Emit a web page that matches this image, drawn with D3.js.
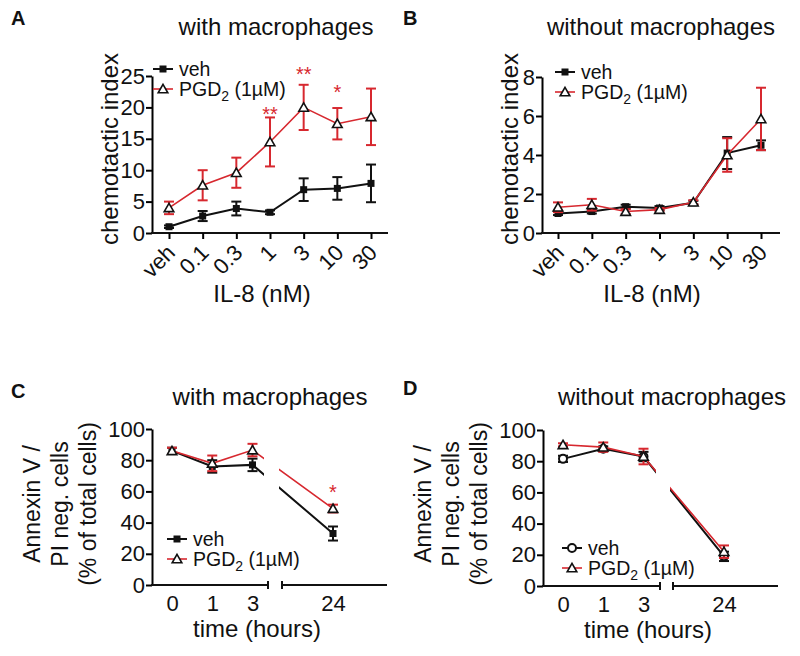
<!DOCTYPE html>
<html><head><meta charset="utf-8">
<script src="https://cdn.jsdelivr.net/npm/d3@7"></script>
<style>body{margin:0;background:#fff}svg{display:block}text{font-family:"Liberation Sans",Arial,sans-serif}</style>
</head><body><svg id="c" width="800" height="656"></svg>
<script>
// ---------- data ----------
const doseCats = ["veh","0.1","0.3","1","3","10","30"];
const yTicksA = [0,5,10,15,20,25];
const yTicksB = [0,2,4,6,8];
const vehA    = [1.0,2.7,3.9,3.3,6.9,7.1,7.9];
const vehAErr = [0.2,0.8,1.1,0.3,1.8,1.8,3.0];
const pgdA    = [4.0,7.6,9.6,14.5,20.0,17.4,18.5];
const pgdAErr = [1.0,2.4,2.4,3.9,3.6,2.5,4.5];
const starCatsA = ["1","3","10"];
const starTextA = ["**","**","*"];
const starLevelA = [19.6,26.0,23.1];
const vehB    = [1.0,1.1,1.35,1.28,1.55,4.1,4.5];
const vehBErr = [0.08,0.1,0.1,0.1,0.1,0.82,0.25];
const pgdB    = [1.32,1.45,1.1,1.2,1.58,4.0,5.85];
const pgdBErr = [0.25,0.3,0.12,0.08,0.1,0.86,1.6];
const timeCats = ["0","1","3","24"];
const timeSlots = ["0","1","3","break","24"];
const yTicksCD = [0,20,40,60,80,100];
const vehC    = [86,76,77,33];
const vehCErr = [2,4,4,4.5];
const pgdC    = [86,78,86.5,49];
const pgdCErr = [2,5,4,2.5];
const starCatsC = ["24"];
const starTextC = ["*"];
const starLevelC = [62];
const vehD    = [81.5,88,83,19];
const vehDErr = [2,1.5,3,3];
const pgdD    = [90.5,89,83,22];
const pgdDErr = [1,3,5,4];
const legendLabels = ["veh","PGD"];

const RED = "#d7282f";
const svg = d3.select("#c");

function panel(cfg){
  const g = svg.append("g");
  const x = d3.scalePoint().domain(cfg.xDomain).range(cfg.xRange);
  const y = d3.scaleLinear().domain([0, cfg.yMax]).range(cfg.yRange);
  const x0 = cfg.axisX;
  const yb = cfg.yRange[0];
  const ya = g.append("g").attr("transform", `translate(${x0},0)`)
    .call(d3.axisLeft(y).tickValues(cfg.yTicks).tickSizeOuter(0).tickSizeInner(6).tickPadding(1));
  ya.select(".domain").attr("stroke-width", 2);
  ya.selectAll(".tick line").attr("stroke-width", 2);
  ya.selectAll("text").attr("font-size", 22).attr("fill", "#111");
  if (cfg.breakAt){
    const [b1,b2] = cfg.breakAt;
    g.append("line").attr("x1", x0-1).attr("x2", b1).attr("y1", yb).attr("y2", yb).attr("stroke","#111").attr("stroke-width",2);
    g.append("line").attr("x1", b2).attr("x2", cfg.axisEnd).attr("y1", yb).attr("y2", yb).attr("stroke","#111").attr("stroke-width",2);
    [b1,b2].forEach(bx => g.append("line").attr("x1", bx).attr("x2", bx).attr("y1", yb-4).attr("y2", yb+4).attr("stroke","#111").attr("stroke-width",2));
  } else {
    g.append("line").attr("x1", x0-1).attr("x2", cfg.axisEnd).attr("y1", yb).attr("y2", yb).attr("stroke","#111").attr("stroke-width",2);
  }
  const xa = g.append("g").attr("transform", `translate(0,${yb})`)
    .call(d3.axisBottom(x).tickValues(cfg.xTicks).tickSizeOuter(0).tickSizeInner(cfg.rotate ? 6 : 0).tickPadding(cfg.rotate ? 4 : 7));
  xa.select(".domain").remove();
  xa.selectAll(".tick line").attr("stroke-width", 2);
  const xt = xa.selectAll("text").attr("font-size", 22).attr("fill", "#111");
  if (cfg.rotate){
    xt.attr("text-anchor","end").attr("dy", null).attr("y", null)
      .attr("transform", "translate(7,21) rotate(-45)");
  } else {
    xt.attr("dy", "0.71em").attr("y", 10);
  }
  let clipId = null;
  if (cfg.breakAt){
    clipId = "clip" + cfg.id;
    const cp = svg.append("clipPath").attr("id", clipId);
    cp.append("rect").attr("x", 0).attr("y", 0).attr("width", cfg.breakAt[0] - 4).attr("height", 656);
    cp.append("rect").attr("x", cfg.breakAt[1] - 3).attr("y", 0).attr("width", 800).attr("height", 656);
  }
  const line = d3.line().x(d => x(d.c)).y(d => y(d.v));
  cfg.series.forEach(s => {
    const data = cfg.cats.map((c,i) => ({c, v:s.values[i], e:s.err[i]}));
    const lp = g.append("path").datum(data).attr("d", line).attr("fill","none")
      .attr("stroke", s.color).attr("stroke-width", s.lw);
    if (clipId) lp.attr("clip-path", `url(#${clipId})`);
    const eb = g.append("g").attr("stroke", s.color).attr("stroke-width", 2);
    data.forEach(d => {
      const cx = x(d.c);
      eb.append("line").attr("x1", cx).attr("x2", cx).attr("y1", y(d.v - d.e)).attr("y2", y(d.v + d.e));
      [d.v - d.e, d.v + d.e].forEach(v => eb.append("line").attr("x1", cx-5).attr("x2", cx+5).attr("y1", y(v)).attr("y2", y(v)));
    });
    data.forEach(d => drawMarker(g, s.marker, x(d.c), y(d.v)));
  });
  if (cfg.stars){
    cfg.stars.cats.forEach((c,i) => {
      g.append("text").attr("x", x(c)).attr("y", y(cfg.stars.levels[i]) + 11)
        .attr("text-anchor","middle").attr("font-size", 20).attr("fill", RED).text(cfg.stars.text[i]);
    });
  }
  cfg.series.forEach((s,i) => {
    const ly = cfg.legend.y[i], lx = cfg.legend.x;
    g.append("line").attr("x1", lx-10).attr("x2", lx+10).attr("y1", ly).attr("y2", ly).attr("stroke", s.color).attr("stroke-width", s.lw);
    drawMarker(g, s.marker, lx, ly);
    const t = g.append("text").attr("x", lx + 16).attr("y", ly + 7).attr("font-size", 19.5).attr("fill","#111");
    if (s.label === "PGD"){
      t.append("tspan").text("PGD");
      t.append("tspan").attr("font-size", 14).attr("dy", 5).text("2");
      t.append("tspan").attr("dy", -5).text(" (1\u00B5M)");
    } else t.text(s.label);
  });
  g.append("text").attr("x", cfg.title.x).attr("y", cfg.title.y).attr("text-anchor","middle")
    .attr("font-size", 24).attr("fill","#111").text(cfg.title.text);
  g.append("text").attr("x", cfg.letter.x).attr("y", cfg.letter.y).attr("font-size", 20)
    .attr("font-weight","bold").attr("fill","#111").text(cfg.letter.text);
  cfg.ylab.lines.forEach((ln,i) => {
    g.append("text").attr("transform", `translate(${cfg.ylab.x[i]},${cfg.ylab.cy}) rotate(-90)`)
      .attr("text-anchor","middle").attr("font-size", cfg.ylab.size).attr("fill","#111").text(ln);
  });
  g.append("text").attr("x", cfg.xlab.x).attr("y", cfg.xlab.y).attr("text-anchor","middle")
    .attr("font-size", 24).attr("fill","#111").text(cfg.xlab.text);
}

function drawMarker(g, type, cx, cy){
  if (type === "square"){
    g.append("rect").attr("x", cx-3.5).attr("y", cy-3.5).attr("width", 7).attr("height", 7).attr("fill","#111");
  } else if (type === "tri"){
    g.append("path").attr("d", d3.symbol(d3.symbolTriangle, 40)()).attr("transform", `translate(${cx},${cy+1})`)
      .attr("fill","#fff").attr("stroke","#111").attr("stroke-width",1.6);
  } else if (type === "circle"){
    g.append("circle").attr("cx", cx).attr("cy", cy).attr("r", 4).attr("fill","#fff").attr("stroke","#111").attr("stroke-width",2);
  }
}

const pgdStyle = {label:"PGD", color:RED, lw:1.6, marker:"tri"};

panel({id:"A", xDomain: doseCats, xRange:[169,371], cats: doseCats, xTicks: doseCats, rotate:true,
  yMax:25, yRange:[233,76], yTicks:yTicksA, axisX:152, axisEnd:388,
  series:[{label:legendLabels[0], color:"#111", lw:2, marker:"square", values:vehA, err:vehAErr},
          Object.assign({values:pgdA, err:pgdAErr}, pgdStyle)],
  stars:{cats:starCatsA, text:starTextA, levels:starLevelA},
  legend:{x:163, y:[69,89]},
  title:{x:276, y:35, text:"with macrophages"}, letter:{x:11, y:25, text:"A"},
  ylab:{lines:["chemotactic index"], x:[118], cy:149, size:24},
  xlab:{x:262, y:302, text:"IL-8 (nM)"}});

panel({id:"B", xDomain: doseCats, xRange:[558,761], cats: doseCats, xTicks: doseCats, rotate:true,
  yMax:8, yRange:[233,77], yTicks:yTicksB, axisX:542, axisEnd:780,
  series:[{label:legendLabels[0], color:"#111", lw:2, marker:"square", values:vehB, err:vehBErr},
          Object.assign({values:pgdB, err:pgdBErr}, pgdStyle)],
  legend:{x:565, y:[72,92]},
  title:{x:661, y:35, text:"without macrophages"}, letter:{x:403, y:25, text:"B"},
  ylab:{lines:["chemotactic index"], x:[518], cy:149, size:24},
  xlab:{x:652, y:302, text:"IL-8 (nM)"}});

panel({id:"C", xDomain: timeSlots, xRange:[172,333], cats: timeCats, xTicks: timeCats, rotate:false,
  yMax:100, yRange:[585,429], yTicks:yTicksCD, axisX:152, axisEnd:387, breakAt:[268,282],
  series:[{label:legendLabels[0], color:"#111", lw:2, marker:"square", values:vehC, err:vehCErr},
          Object.assign({values:pgdC, err:pgdCErr}, pgdStyle)],
  stars:{cats:starCatsC, text:starTextC, levels:starLevelC},
  legend:{x:177, y:[539,559]},
  title:{x:270, y:405, text:"with macrophages"}, letter:{x:11, y:398, text:"C"},
  ylab:{lines:["Annexin V /","PI neg. cells","(% of total cells)"], x:[40,68,96], cy:504, size:23},
  xlab:{x:257, y:637, text:"time (hours)"}});

panel({id:"D", xDomain: timeSlots, xRange:[563,724], cats: timeCats, xTicks: timeCats, rotate:false,
  yMax:100, yRange:[586,430], yTicks:yTicksCD, axisX:543, axisEnd:778, breakAt:[660,673],
  series:[{label:legendLabels[0], color:"#111", lw:2, marker:"circle", values:vehD, err:vehDErr},
          Object.assign({values:pgdD, err:pgdDErr}, pgdStyle)],
  legend:{x:572, y:[548,568]},
  title:{x:672, y:405, text:"without macrophages"}, letter:{x:403, y:395, text:"D"},
  ylab:{lines:["Annexin V /","PI neg. cells","(% of total cells)"], x:[431,459,487], cy:504, size:23},
  xlab:{x:648, y:638, text:"time (hours)"}});
</script></body></html>
